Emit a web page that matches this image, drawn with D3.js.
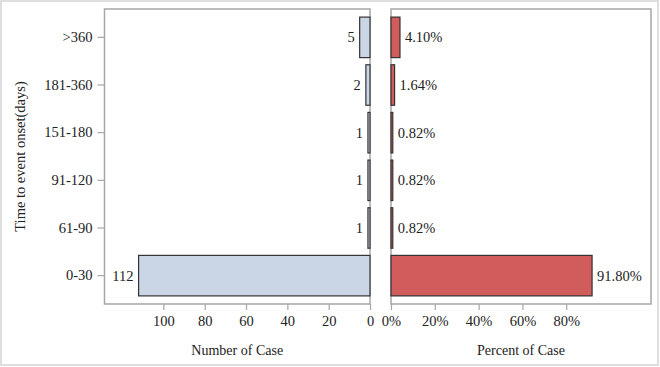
<!DOCTYPE html>
<html>
<head>
<meta charset="utf-8">
<script src="https://cdn.jsdelivr.net/npm/d3@7"></script>
<style>
  html, body { margin: 0; padding: 0; background: #fff; }
  svg { display: block; }
  text { font-family: "Liberation Serif", "Times New Roman", serif; fill: #222; }
</style>
</head>
<body>
<svg id="chart" width="660" height="367"></svg>
<script>
const categories = [">360", "181-360", "151-180", "91-120", "61-90", "0-30"];
const caseCounts = [5, 2, 1, 1, 1, 112];
const casePercents = [4.10, 1.64, 0.82, 0.82, 0.82, 91.80];
const countTicks = [100, 80, 60, 40, 20, 0];
const percentTicks = [0, 20, 40, 60, 80];

(function () {
const svg = d3.select("#chart");
const W = 660, H = 367;

// outer frame
svg.append("rect").attr("x", 1).attr("y", 1).attr("width", W - 3).attr("height", H - 3)
  .attr("fill", "#fff").attr("stroke", "#dedede").attr("stroke-width", 2);

const plotTop = 9, plotBottom = 304;
const leftX0 = 104.5, leftX1 = 370;
const rightX0 = 391, rightX1 = 651;

const y = d3.scaleBand().domain(categories).range([plotTop, plotBottom])
  .paddingInner(0.15).paddingOuter(0.17);
const xL = d3.scaleLinear().domain([128.5, 0]).range([leftX0, leftX1]);
const xR = d3.scaleLinear().domain([0, 118.7]).range([rightX0, rightX1]);

const frameColor = "#a6a6a6";
const fontSize = 14.5;
const titleSize = 14;

function frame(x0, x1) {
  svg.append("rect").attr("x", x0).attr("y", plotTop).attr("width", x1 - x0).attr("height", plotBottom - plotTop)
    .attr("fill", "none").attr("stroke", frameColor).attr("stroke-width", 1.5);
}
frame(leftX0, leftX1);
frame(rightX0, rightX1);

// y axis
const yAxis = svg.append("g").attr("transform", `translate(${leftX0},0)`)
  .call(d3.axisLeft(y).tickSize(7).tickPadding(5));
yAxis.select(".domain").remove();
yAxis.selectAll(".tick line").attr("stroke", frameColor).attr("stroke-width", 1.2);
yAxis.selectAll(".tick text").attr("font-size", fontSize).attr("font-family", "Liberation Serif").attr("fill", "#222");

// x axes
const axL = svg.append("g").attr("transform", `translate(0,${plotBottom})`)
  .call(d3.axisBottom(xL).tickValues(countTicks).tickSize(6).tickPadding(6));
const axR = svg.append("g").attr("transform", `translate(0,${plotBottom})`)
  .call(d3.axisBottom(xR).tickValues(percentTicks).tickFormat(d => d + "%").tickSize(6).tickPadding(6));
[axL, axR].forEach(a => {
  a.select(".domain").remove();
  a.selectAll(".tick line").attr("stroke", frameColor).attr("stroke-width", 1.2);
  a.selectAll(".tick text").attr("font-size", fontSize).attr("font-family", "Liberation Serif").attr("fill", "#222");
});

// left bars
svg.append("g").selectAll("rect").data(categories).join("rect")
  .attr("x", (d, i) => xL(caseCounts[i]))
  .attr("y", d => y(d))
  .attr("width", (d, i) => xL(0) - xL(caseCounts[i]))
  .attr("height", y.bandwidth())
  .attr("fill", "#cad5e6").attr("stroke", "#333").attr("stroke-width", 1.2);

svg.append("g").selectAll("text").data(categories).join("text")
  .attr("x", (d, i) => xL(caseCounts[i]) - 5)
  .attr("y", d => y(d) + y.bandwidth() / 2)
  .attr("dy", "0.35em").attr("text-anchor", "end").attr("font-size", fontSize)
  .text((d, i) => caseCounts[i]);

// right bars
svg.append("g").selectAll("rect").data(categories).join("rect")
  .attr("x", xR(0))
  .attr("y", d => y(d))
  .attr("width", (d, i) => xR(casePercents[i]) - xR(0))
  .attr("height", y.bandwidth())
  .attr("fill", "#d05c5c").attr("stroke", "#333").attr("stroke-width", 1.2);

svg.append("g").selectAll("text").data(categories).join("text")
  .attr("x", (d, i) => xR(casePercents[i]) + 5)
  .attr("y", d => y(d) + y.bandwidth() / 2)
  .attr("dy", "0.35em").attr("text-anchor", "start").attr("font-size", fontSize)
  .text((d, i) => casePercents[i].toFixed(2) + "%");

// axis titles
svg.append("text").attr("x", (leftX0 + leftX1) / 2).attr("y", 355)
  .attr("text-anchor", "middle").attr("font-size", titleSize).text("Number of Case");
svg.append("text").attr("x", (rightX0 + rightX1) / 2).attr("y", 355)
  .attr("text-anchor", "middle").attr("font-size", titleSize).text("Percent of Case");
svg.append("text").attr("transform", `translate(20,${(plotTop + plotBottom) / 2}) rotate(-90)`)
  .attr("text-anchor", "middle").attr("dy", "0.35em").attr("font-size", fontSize).text("Time to event onset(days)");
})();
</script>
</body>
</html>
